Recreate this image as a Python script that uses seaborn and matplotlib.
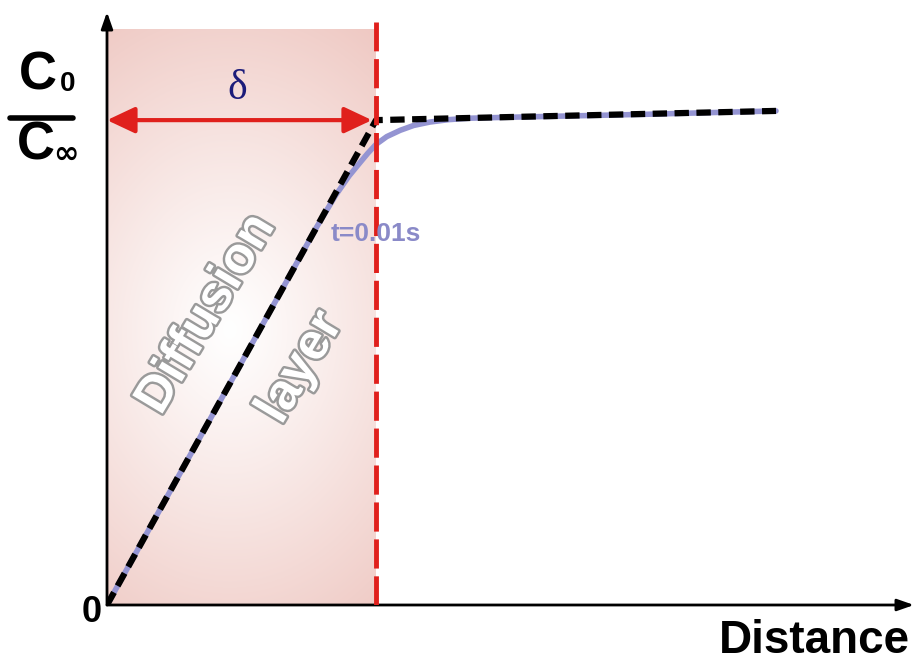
import numpy as np
import matplotlib
matplotlib.use("Agg")
import matplotlib.pyplot as plt
import matplotlib.patheffects as pe
import seaborn as sns
import pandas as pd

# ---- data (distance in units of delta, concentration ratio c0/c_inf) ----
delta = 1.0
x_max = 3.0
y_max = 1.223
layer_top = 1.186
line_top = 1.202

lin_x = [0.0, 1.0, 2.487]
lin_y = [0.0, 1.0, 1.019]

curve_x = [0.0, 0.5, 0.78, 0.85, 0.90, 0.94, 0.97, 1.0, 1.04, 1.09, 1.14, 1.2, 1.27, 1.35, 1.5, 2.0, 2.487]
curve_y = [0.0, 0.5, 0.78, 0.845, 0.885, 0.912, 0.932, 0.950, 0.966, 0.979, 0.989, 0.996, 1.001, 1.004, 1.006, 1.012, 1.019]

curve_label = "t=0.01s"
layer_words = ["Diffusion", "layer"]
x_label = "Distance"
origin_label = "0"

sns.set_style("white")
plt.rcParams['font.family'] = ['Liberation Sans', 'DejaVu Sans']
plt.rcParams['text.color'] = 'black'

W, H = 916, 662
fig = plt.figure(figsize=(W / 100, H / 100), dpi=100)
ax = fig.add_axes([107 / W, 57 / H, 807 / W, 593 / H])
ax.set_xlim(0, x_max)
ax.set_ylim(0, y_max)
for s in ax.spines.values():
    s.set_visible(False)
ax.set_xticks([])
ax.set_yticks([])

# shaded diffusion layer with radial highlight
nx, ny = 300, 400
gx = np.linspace(0, delta, nx)
gy = np.linspace(0, layer_top, ny)
GX, GY = np.meshgrid(gx, gy)
px = GX * 269
py = GY * 485
cx, cy = 0.457 * 269, 0.567 * 485
r = np.sqrt((px - cx) ** 2 + ((py - cy) * 0.75) ** 2)
t = np.clip(r / 280, 0, 1) ** 1.1
white = np.array([1.0, 1.0, 1.0])
pink = np.array([238, 198, 192]) / 255
img = white[None, None, :] * (1 - t[..., None]) + pink[None, None, :] * t[..., None]
ax.imshow(img, extent=[0, delta, 0, layer_top], origin="lower", aspect="auto", zorder=0)

# diffusion layer text
stroke = [pe.withStroke(linewidth=3.5, foreground="#9a9a9a")]
ax.text(0.37, 0.60, layer_words[0], rotation=59, fontsize=37, fontweight="bold",
        color="white", ha="center", va="center", path_effects=stroke, zorder=1)
ax.text(0.72, 0.49, layer_words[1], rotation=59, fontsize=37, fontweight="bold",
        color="white", ha="center", va="center", path_effects=stroke, zorder=1)

# curves
df_curve = pd.DataFrame({"x": curve_x, "y": curve_y})
df_lin = pd.DataFrame({"x": lin_x, "y": lin_y})
sns.lineplot(data=df_curve, x="x", y="y", ax=ax, color="#9494d2", lw=4.0,
             sort=False, estimator=None, zorder=3)
sns.lineplot(data=df_lin, x="x", y="y", ax=ax, color="black", lw=4.5,
             sort=False, estimator=None, zorder=4, dashes=False)
ax.lines[-1].set_dashes([2.3, 1.2])
ax.lines[-1].set_dash_capstyle("butt")

# red dashed boundary
ax.plot([delta, delta], [0, line_top], color="#e0201c", lw=3.5, dashes=[6, 1.6], zorder=5)

# delta double arrow
ax.annotate("", xy=(0.0, 1.0), xytext=(0.985, 1.0),
            arrowprops=dict(arrowstyle="<|-|>,head_length=1.7,head_width=0.8",
                            color="#e0201c", lw=3, shrinkA=0, shrinkB=0), zorder=6)
ax.text(0.485, 1.065, "δ", fontsize=30, color="#1c1c7a", family="Liberation Serif",
        ha="center", va="center")

ax.text(1.0, 0.765, curve_label, fontsize=19, fontweight="bold", color="#8a8ac8",
        ha="center", va="center", zorder=6)

# axes with arrows
ax.annotate("", xy=(0, y_max), xytext=(0, 0),
            arrowprops=dict(arrowstyle="-|>,head_length=1.0,head_width=0.35",
                            color="black", lw=2, shrinkA=0, shrinkB=0),
            annotation_clip=False)
ax.annotate("", xy=(x_max, 0), xytext=(0, 0),
            arrowprops=dict(arrowstyle="-|>,head_length=1.0,head_width=0.35",
                            color="black", lw=2, shrinkA=0, shrinkB=0),
            annotation_clip=False)

# labels
fig.text(92 / W, 1 - 612 / H, origin_label, fontsize=26, fontweight="bold",
         ha="center", va="center")
fig.text(910 / W, 1 - 641 / H, x_label, fontsize=33, fontweight="bold",
         ha="right", va="center")

# y label: c0 / c_inf
fig.text(38 / W, 1 - 76 / H, "C", fontsize=38, fontweight="bold", ha="center", va="center")
fig.text(68 / W, 1 - 84 / H, "0", fontsize=20, fontweight="bold", ha="center", va="center")
fig.add_artist(plt.Line2D([10 / W, 73 / W], [1 - 118 / H, 1 - 118 / H], color="black", lw=4))
fig.text(36 / W, 1 - 146 / H, "C", fontsize=38, fontweight="bold", ha="center", va="center")
fig.text(66 / W, 1 - 154 / H, "∞", fontsize=22, fontweight="bold", ha="center", va="center",
         family="DejaVu Sans")

fig.savefig("out.png", dpi=100)
